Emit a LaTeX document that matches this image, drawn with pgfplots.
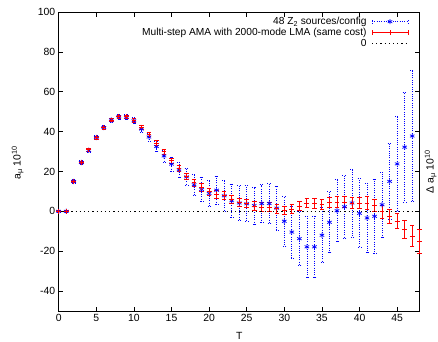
\documentclass[border=0pt]{standalone}
\usepackage{fontspec}
\setmainfont{Liberation Sans}
\usepackage{pgfplots}
\usepackage{pgfplotstable}
\pgfplotsset{compat=1.18}

\pgfplotstableread{
T v e
0 0 0.3
1 0 0.5
2 15 0.8
3 24.5 1
4 30.6 1
5 37 1
6 42 1
7 45.8 1
8 47.4 1.2
9 47.3 1.3
10 45.4 1.5
11 41.3 1.8
12 37.3 2
13 32.5 2.5
14 27.8 3
15 23.7 3.5
16 20.8 4
17 17.3 4.5
18 13.3 5.5
19 11 6
20 9 6.5
21 10.6 7
22 7.8 7.7
23 5.3 8.3
24 4.2 8.7
25 3.8 9
26 2.9 9.3
27 3.9 9.5
28 3.9 10
29 1.6 11
30 -5 12.5
31 -10.4 13
32 -13.7 13.5
33 -17.8 15.5
34 -17.8 15.3
35 -12 13.8
36 -5.5 15.3
37 0.3 15.6
38 2.3 16
39 4.2 17
40 -1 17.3
41 -3.3 17.5
42 -2.5 18.5
43 3.3 16.5
44 15 19
45 23.8 24
46 32.2 27.5
47 37.8 33
}\bluedata

\pgfplotstableread{
T v e
0 0 0.2
1 0 0.3
2 15 0.5
3 24.6 0.6
4 30.8 0.6
5 37 0.7
6 42 0.7
7 45.8 0.8
8 47.5 0.8
9 47.4 0.9
10 45.5 0.9
11 42.3 1
12 38.7 1.1
13 34.2 1.2
14 29.8 1.3
15 25.3 1.4
16 21.3 1.5
17 17.5 1.6
18 14.4 1.7
19 12 1.8
20 9.8 1.9
21 8.4 2
22 8 2
23 6.2 2
24 4.7 2
25 4.1 2
26 2.7 2.1
27 2.2 2.1
28 2.2 2.1
29 1.3 2.2
30 0.5 2.2
31 1 2.3
32 2.6 2.4
33 4.2 2.5
34 4 2.5
35 3.6 2.5
36 4.3 2.6
37 4.7 2.7
38 4.7 2.8
39 4.2 2.9
40 4.2 3
41 4.2 3.1
42 3 3.2
43 -0.3 3.4
44 -2.5 3.5
45 -5 3.8
46 -9.2 4.4
47 -12.5 5.3
48 -15.2 6
}\reddata

\begin{document}
\begin{tikzpicture}
\begin{axis}[
  scale only axis, width=361pt, height=299pt,
  xmin=0, xmax=48, ymin=-50, ymax=100,
  xtick={0,5,...,45}, ytick={-40,-20,...,100},
  tick align=inside, major tick length=4.5pt,
  tick style={black, line width=0.6pt},
  axis line style={line width=0.8pt},
  clip=false,
  /pgf/number format/assume math mode=true,
  ticklabel style={font=\fontsize{10.4}{12}\selectfont},
  every axis x label/.style={at={(rel axis cs:0.5,0)}, yshift=-25pt, anchor=center},
  every axis y label/.style={at={(rel axis cs:0,0.495)}, xshift=-41pt, rotate=90, anchor=center},
  label style={font=\fontsize{10.4}{12}\selectfont},
  xlabel={T},
  ylabel={a\textsubscript{μ} 10\textsuperscript{10}},
  legend plot pos=right,
  legend cell align=right,
  legend style={at={(rel axis cs:1,1)}, anchor=north east, xshift=-11pt, yshift=-4pt,
    draw=none, fill=none, inner sep=0pt, row sep=0pt,
    font=\fontsize{10.2}{12}\selectfont,
    nodes={inner sep=1pt}},
]
\addplot[blue, line width=0.7pt, mark=asterisk, mark size=2.6pt, only marks,
  legend image code/.code={
    \path (0pt,0pt);
    \draw[blue, line width=0.7pt, dash pattern=on 1pt off 1.3pt] (4pt,0pt) -- (40pt,0pt);
    \draw[blue, line width=0.7pt, dash pattern=on 1pt off 1.3pt] (4pt,-2pt) -- (4pt,2pt) (40pt,-2pt) -- (40pt,2pt);
    \draw[blue, line width=0.7pt, solid] plot[mark=asterisk, mark size=2.6pt] coordinates {(22pt,0pt)};
  },
  error bars/.cd, y dir=both, y explicit,
  error bar style={blue, line width=0.7pt, dash pattern=on 1pt off 1.3pt},
  error mark options={rotate=90, blue, line width=0.7pt, mark size=2pt, dash pattern=on 1pt off 1.3pt}]
  table[x=T, y=v, y error=e] {\bluedata};
\addlegendentry{48 Z\textsubscript{2} sources/config}
\addplot[red, line width=0.9pt, mark=+, mark size=2.4pt, only marks,
  legend image code/.code={
    \path (0pt,0pt);
    \draw[red, line width=0.9pt] (4pt,0pt) -- (40pt,0pt);
    \draw[red, line width=0.9pt] (4pt,-2.3pt) -- (4pt,2.3pt) (40pt,-2.3pt) -- (40pt,2.3pt);
    \draw[red, line width=0.9pt] plot[mark=+, mark size=2.4pt] coordinates {(22pt,0pt)};
  },
  error bars/.cd, y dir=both, y explicit,
  error bar style={red, line width=0.9pt, solid},
  error mark options={rotate=90, red, line width=0.9pt, mark size=2.3pt, solid}]
  table[x=T, y=v, y error=e] {\reddata};
\addlegendentry{Multi-step AMA with 2000-mode LMA (same cost)}
\addplot[black, line width=0.7pt, dash pattern=on 1.2pt off 3pt, no marks,
  legend image code/.code={
    \path (0pt,0pt);
    \draw[black, line width=0.7pt, dash pattern=on 1.2pt off 3pt] (4pt,0pt) -- (40pt,0pt);
  }] coordinates {(0,0) (48,0)};
\addlegendentry{0}
\node[xshift=11pt, rotate=90, anchor=center, font=\fontsize{10.4}{12}\selectfont] at (rel axis cs:1,0.466) {Δ a\textsubscript{μ} 10\textsuperscript{10}};
\end{axis}
\pgfresetboundingbox
\path[use as bounding box] (-58.7pt,-30pt) rectangle (379.3pt,311pt);
\end{tikzpicture}
\end{document}
